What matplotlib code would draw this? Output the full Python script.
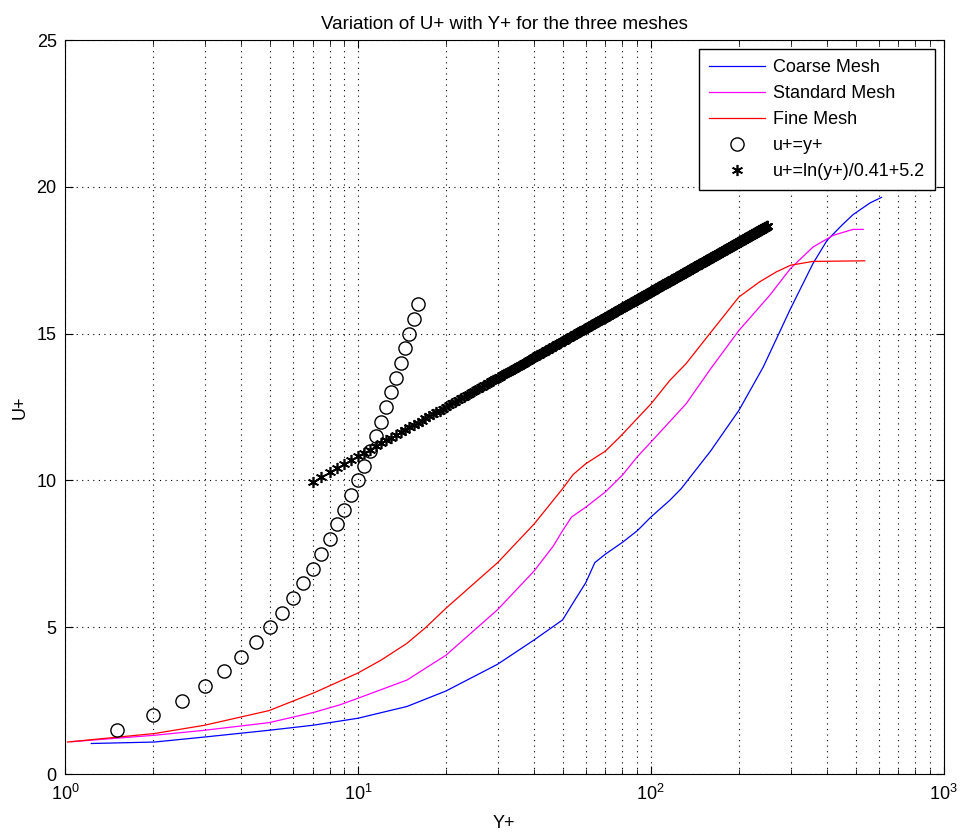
import numpy as np
import matplotlib
matplotlib.use("Agg")
import matplotlib.pyplot as plt

plt.rcParams['font.family'] = ['Liberation Sans', 'DejaVu Sans']
plt.rcParams['mathtext.default'] = 'regular'

# Coarse mesh
coarse_y = [1.23, 2.02, 2.99, 4.97, 7.0, 10.0, 14.7, 20.0, 30.0, 40.0, 50.0, 54.3, 60.0, 64.4,
            70.0, 80.0, 90.0, 100, 116, 127, 160, 200, 242, 300, 358, 400, 450, 490, 560, 613]
coarse_u = [1.04, 1.09, 1.26, 1.49, 1.66, 1.9, 2.3, 2.83, 3.74, 4.57, 5.25, 5.83, 6.52, 7.2,
            7.49, 7.89, 8.29, 8.75, 9.32, 9.72, 11.0, 12.39, 13.86, 15.85, 17.39, 18.18, 18.7,
            19.05, 19.45, 19.64]

# Standard mesh
standard_y = [1.05, 2.02, 2.99, 4.97, 7.13, 8.7, 10.0, 14.7, 20.0, 30.0, 40.0, 46.5, 50.0, 53.6,
              60.0, 70.0, 80.0, 90.0, 100, 132, 160, 200, 255, 300, 358, 420, 490, 531]
standard_u = [1.1, 1.32, 1.49, 1.75, 2.11, 2.36, 2.58, 3.2, 4.05, 5.6, 6.92, 7.77, 8.29, 8.75,
              9.09, 9.61, 10.18, 10.81, 11.3, 12.61, 13.8, 15.11, 16.31, 17.22, 17.95, 18.35,
              18.55, 18.55]

# Fine mesh
fine_y = [1.02, 2.02, 2.99, 4.97, 7.13, 10.0, 12.0, 14.7, 17.0, 20.0, 30.0, 40.0, 50.0, 54.3,
          60.0, 70.0, 78.4, 100, 116, 132, 159, 200, 235, 268, 300, 358, 537]
fine_u = [1.09, 1.38, 1.66, 2.16, 2.78, 3.44, 3.88, 4.45, 4.98, 5.65, 7.2, 8.52, 9.72, 10.2,
          10.57, 11.0, 11.48, 12.6, 13.4, 13.98, 15.0, 16.25, 16.76, 17.1, 17.33, 17.46, 17.48]

# viscous sublayer u+ = y+
lin_y = np.arange(1.5, 16.01, 0.5)
# log law u+ = ln(y+)/0.41 + 5.2
log_y = np.arange(7, 250.01, 0.5)

fig = plt.figure(figsize=(9.6, 8.34), dpi=100)
ax = fig.add_axes([0.0677, 0.0719, 0.9153, 0.8801])

ax.plot(coarse_y, coarse_u, color='#0000ff', lw=0.9, label='Coarse Mesh')
ax.plot(standard_y, standard_u, color='#ff00ff', lw=0.9, label='Standard Mesh')
ax.plot(fine_y, fine_u, color='#ff0000', lw=0.9, label='Fine Mesh')
ax.plot(lin_y, lin_y, 'o', mfc='none', mec='k', ms=9.5, mew=1.0, label='u+=y+')
ax.plot(log_y, np.log(log_y) / 0.41 + 5.2, ls='none', marker=(6, 2, 0), color='k',
        ms=8, mew=1.2, label='u+=ln(y+)/0.41+5.2')

ax.set_xscale('log')
ax.set_xlim(1, 1000)
ax.set_ylim(0, 25)
ax.set_yticks([0, 5, 10, 15, 20, 25])
ax.grid(True, which='major', ls=(0, (1, 4)), color='k', lw=0.8)
ax.grid(True, which='minor', axis='x', ls=(0, (1, 4)), color='k', lw=0.8)
ax.tick_params(which='both', direction='in', top=True, right=True, labelsize=13)
ax.tick_params(axis='x', which='major', pad=7)
ax.tick_params(axis='y', which='major', pad=6)
ax.tick_params(which='major', length=6)
ax.tick_params(which='minor', length=3.5)

ax.set_title('Variation of U+ with Y+ for the three meshes', fontsize=13.5, pad=8)
ax.set_xlabel('Y+', fontsize=13, labelpad=8)
ax.set_ylabel('U+', fontsize=13, labelpad=6)

leg = ax.legend(loc='upper right', fontsize=13, fancybox=False, framealpha=1,
                edgecolor='k', borderaxespad=0.5, borderpad=0.55, handlelength=3.1,
                handletextpad=0.4, labelspacing=0.5)
leg.get_frame().set_linewidth(1.0)

fig.savefig('out.png', dpi=100)
